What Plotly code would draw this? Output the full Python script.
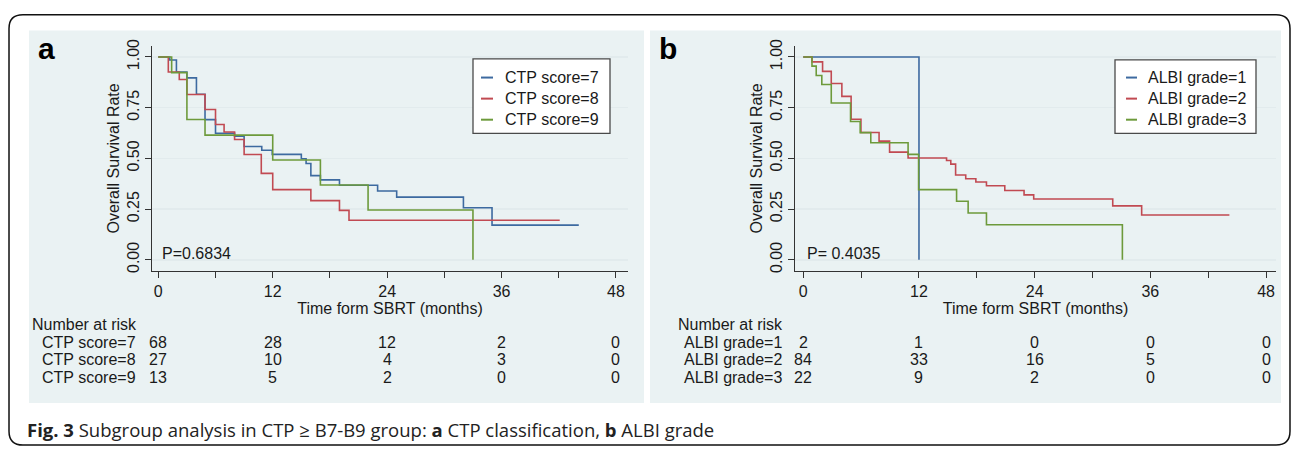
import plotly.graph_objects as go

W, H = 1292, 449

# ---------------- data ----------------
ctp_names = ["CTP score=7", "CTP score=8", "CTP score=9"]
ctp7_t = [0, 1.2, 1.9, 3.0, 4.0, 4.9, 6.0, 8.0, 9.0, 10.85, 11.95, 15.0, 15.5, 16.0, 17.0, 19.0, 23.0, 25.0, 32.0, 35.0, 44.1]
ctp7_s = [1.0, 0.985, 0.926, 0.897, 0.816, 0.691, 0.624, 0.61, 0.559, 0.540, 0.520, 0.498, 0.475, 0.415, 0.394, 0.368, 0.339, 0.309, 0.257, 0.171, 0.171]
ctp8_t = [0, 1.05, 2.2, 3.0, 4.9, 6.0, 6.9, 8.0, 9.0, 10.8, 12.0, 16.0, 19.0, 20.0, 42.1]
ctp8_s = [1.0, 0.926, 0.889, 0.815, 0.741, 0.667, 0.630, 0.593, 0.519, 0.426, 0.346, 0.292, 0.244, 0.195, 0.195]
ctp9_t = [0, 1.4, 3.0, 4.9, 12.0, 17.0, 22.0, 33.0]
ctp9_s = [1.0, 0.923, 0.692, 0.615, 0.492, 0.369, 0.246, 0.0]

albi_names = ["ALBI grade=1", "ALBI grade=2", "ALBI grade=3"]
albi1_t = [0, 12.0]
albi1_s = [1.0, 0.0]
albi2_t = [0, 0.9, 2.0, 2.9, 4.0, 4.96, 5.98, 7.86, 8.95, 10.87, 14.86, 15.3, 15.8, 16.85, 17.9, 19.0, 20.9, 22.9, 23.9, 32.1, 35.1, 44.2]
albi2_s = [1.0, 0.976, 0.929, 0.869, 0.806, 0.693, 0.628, 0.585, 0.531, 0.502, 0.49, 0.472, 0.418, 0.40, 0.384, 0.365, 0.342, 0.32, 0.30, 0.266, 0.221, 0.221]
albi3_t = [0, 0.9, 1.34, 1.92, 2.9, 4.9, 5.9, 7.0, 10.87, 11.96, 15.9, 17.1, 19.0, 33.1]
albi3_s = [1.0, 0.955, 0.909, 0.864, 0.773, 0.682, 0.627, 0.577, 0.520, 0.346, 0.289, 0.231, 0.173, 0.0]

risk_times = [0, 12, 24, 36, 48]
ctp_risk = [[68, 28, 12, 2, 0], [27, 10, 4, 3, 0], [13, 5, 2, 0, 0]]
albi_risk = [[2, 1, 0, 0, 0], [84, 33, 16, 5, 0], [22, 9, 2, 0, 0]]

p_values = ["P=0.6834", "P= 0.4035"]
panel_labels = ["a", "b"]
x_title = "Time form SBRT (months)"
y_title = "Overall Survival Rate"
risk_header = "Number at risk"
x_ticks = [0, 12, 24, 36, 48]
y_ticks = [0, 0.25, 0.5, 0.75, 1.0]
y_ticktext = ["0.00", "0.25", "0.50", "0.75", "1.00"]
caption = "<b>Fig. 3</b> Subgroup analysis in CTP \u2265 B7-B9 group: <b>a</b> CTP classification, <b>b</b> ALBI grade"

colors = ["#3d6aa0", "#c14a52", "#6d9a3b"]

# ---------------- helpers ----------------
def px(x):
    return x / W

def py(y):
    return 1 - y / H

FONT = "Liberation Sans, Arial, sans-serif"
TXT = "#1a1a1a"
PANEL_BG = "#eaf2f3"

fig = go.Figure()

ctp_series = [(ctp7_t, ctp7_s), (ctp8_t, ctp8_s), (ctp9_t, ctp9_s)]
albi_series = [(albi1_t, albi1_s), (albi2_t, albi2_s), (albi3_t, albi3_s)]

for i, (t, s) in enumerate(ctp_series):
    fig.add_trace(go.Scatter(x=t, y=s, mode="lines", line=dict(color=colors[i], width=1.6, shape="hv"),
                             name=ctp_names[i], showlegend=False, xaxis="x", yaxis="y"))
for i, (t, s) in enumerate(albi_series):
    fig.add_trace(go.Scatter(x=t, y=s, mode="lines", line=dict(color=colors[i], width=1.6, shape="hv"),
                             name=albi_names[i], showlegend=False, xaxis="x2", yaxis="y2"))

# axes geometry (pixels)
A = dict(left=152, right=628, x0px=158.3, ppm=9.535)
B = dict(left=795, right=1276, x0px=803.3, ppm=9.64)
y_top, y_bot = 40, 269
y1px, y0px = 51, 258

def xrange(g):
    return [(g["left"] - g["x0px"]) / g["ppm"], (g["right"] - g["x0px"]) / g["ppm"]]

yr = [(y0px - y_bot) / (y0px - y1px), 1 + (y1px - y_top) / (y0px - y1px)]

def xaxis_cfg(g):
    return dict(domain=[px(g["left"]), px(g["right"])], range=xrange(g),
                tickvals=x_ticks, ticks="outside", ticklen=6, tickwidth=1, tickcolor="#333",
                showline=True, linecolor="#333", linewidth=1, showgrid=False, zeroline=False,
                minor=dict(dtick=6, tick0=0, ticks="outside", ticklen=6, tickwidth=1, tickcolor="#333", showgrid=False),
                tickfont=dict(family=FONT, size=16, color=TXT),
                title=dict(text=x_title, font=dict(family=FONT, size=16, color=TXT), standoff=0),
                fixedrange=True)

def yaxis_cfg(anchor):
    return dict(domain=[py(y_bot), py(y_top)], range=yr, anchor=anchor,
                tickvals=y_ticks, ticktext=y_ticktext, tickangle=-90,
                ticks="outside", ticklen=6, tickwidth=1, tickcolor="#333",
                showline=True, linecolor="#333", linewidth=1,
                showgrid=True, gridcolor="#e2ebed", gridwidth=1.5, zeroline=False,
                tickfont=dict(family=FONT, size=16, color=TXT),
                title=dict(text=y_title, font=dict(family=FONT, size=16, color=TXT), standoff=0),
                fixedrange=True)

fig.update_layout(
    width=W, height=H, autosize=False,
    margin=dict(l=0, r=0, t=0, b=0),
    paper_bgcolor="white", plot_bgcolor="white",
    xaxis=dict(**xaxis_cfg(A), anchor="y"),
    yaxis=yaxis_cfg("x"),
    xaxis2=dict(**xaxis_cfg(B), anchor="y2"),
    yaxis2=yaxis_cfg("x2"),
    showlegend=False,
    hovermode=False,
)

shapes = []
annotations = []

# outer rounded border
x0, y0, x1, y1, r = 9, 8, 1290, 447, 14
def P(x, y):
    return f"{px(x):.5f},{py(y):.5f}"
path = (f"M {P(x0 + r, y0)} L {P(x1 - r, y0)} Q {P(x1, y0)} {P(x1, y0 + r)} "
        f"L {P(x1, y1 - r)} Q {P(x1, y1)} {P(x1 - r, y1)} L {P(x0 + r, y1)} "
        f"Q {P(x0, y1)} {P(x0, y1 - r)} L {P(x0, y0 + r)} Q {P(x0, y0)} {P(x0 + r, y0)} Z")
shapes.append(dict(type="path", path=path, xref="paper", yref="paper",
                   line=dict(color="#111", width=1.5), layer="below"))

# panel backgrounds
for (l, rr) in [(29, 644), (650, 1281)]:
    shapes.append(dict(type="rect", xref="paper", yref="paper", x0=px(l), x1=px(rr), y0=py(404), y1=py(24),
                       fillcolor=PANEL_BG, line=dict(width=0), layer="below"))

# legends
legend_geo = [dict(box=(473, 610, 53, 129), sample=(481, 493), text=503),
              dict(box=(1115, 1256, 54, 129), sample=(1126, 1137), text=1146)]
legend_rows = [72, 93.5, 115]
for k, names in enumerate([ctp_names, albi_names]):
    g = legend_geo[k]
    bx0, bx1, by0, by1 = g["box"]
    shapes.append(dict(type="rect", xref="paper", yref="paper", x0=px(bx0), x1=px(bx1), y0=py(by1), y1=py(by0),
                       fillcolor="white", line=dict(color="#4a4a4a", width=1.3), layer="above"))
    for i, nm in enumerate(names):
        yy = legend_rows[i]
        shapes.append(dict(type="line", xref="paper", yref="paper", x0=px(g["sample"][0]), x1=px(g["sample"][1]),
                           y0=py(yy), y1=py(yy), line=dict(color=colors[i], width=2), layer="above"))
        annotations.append(dict(text=nm, xref="paper", yref="paper", x=px(g["text"]), y=py(yy),
                                xanchor="left", yanchor="middle", showarrow=False,
                                font=dict(family=FONT, size=16, color=TXT)))

# panel letters
for lab, xx in zip(panel_labels, [46, 668]):
    annotations.append(dict(text=f"<b>{lab}</b>", xref="paper", yref="paper", x=px(xx), y=py(42),
                            xanchor="center", yanchor="middle", showarrow=False,
                            font=dict(family=FONT, size=30, color="#000")))

# p-values
for pv, xx in zip(p_values, [160, 805]):
    annotations.append(dict(text=pv, xref="paper", yref="paper", x=px(xx), y=py(252),
                            xanchor="left", yanchor="middle", showarrow=False,
                            font=dict(family=FONT, size=16, color=TXT)))

# risk tables
row_y = [342, 360, 378]
for xref, names, risk, hx, lx in [("x", ctp_names, ctp_risk, 30, 40), ("x2", albi_names, albi_risk, 676, 682)]:
    annotations.append(dict(text=risk_header, xref="paper", yref="paper", x=px(hx), y=py(324),
                            xanchor="left", yanchor="middle", showarrow=False,
                            font=dict(family=FONT, size=16, color=TXT)))
    for i, nm in enumerate(names):
        annotations.append(dict(text=nm, xref="paper", yref="paper", x=px(lx), y=py(row_y[i]),
                                xanchor="left", yanchor="middle", showarrow=False,
                                font=dict(family=FONT, size=16, color=TXT)))
        for t, v in zip(risk_times, risk[i]):
            annotations.append(dict(text=str(v), xref=xref, yref="paper", x=t, y=py(row_y[i]),
                                    xanchor="center", yanchor="middle", showarrow=False,
                                    font=dict(family=FONT, size=16, color=TXT)))

# caption
annotations.append(dict(text=caption, xref="paper", yref="paper", x=px(25), y=py(431),
                        xanchor="left", yanchor="middle", showarrow=False,
                        font=dict(family="Open Sans, sans-serif", size=18.5, color="#222")))

fig.update_layout(shapes=shapes, annotations=annotations)
fig.write_html("out.html", config={"displayModeBar": False, "staticPlot": True},
               post_script="document.body.style.margin='0px';document.body.style.padding='0px';")
